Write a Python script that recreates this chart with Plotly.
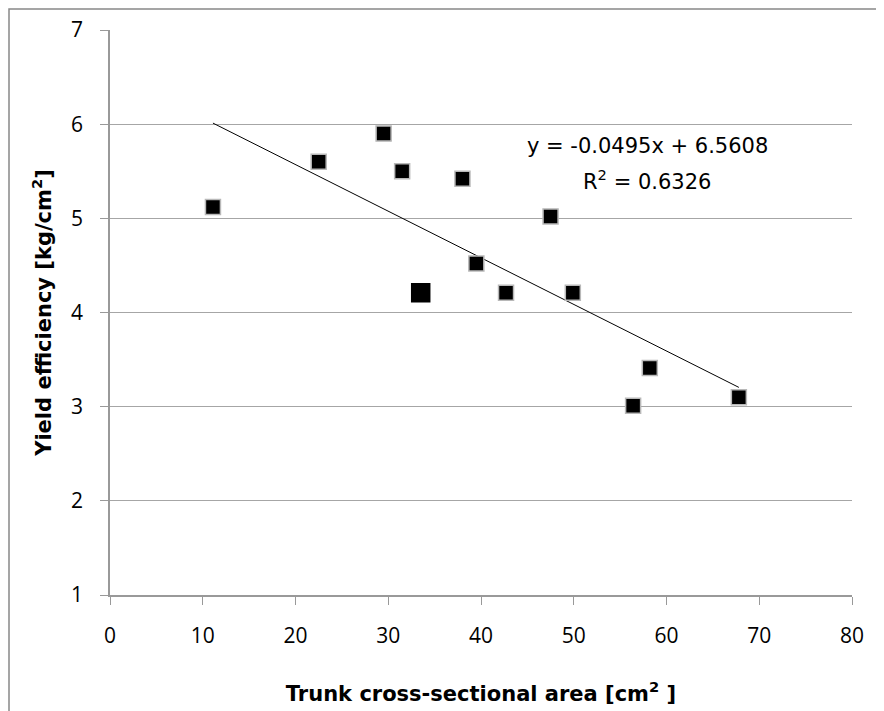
import plotly.graph_objects as go

# Data
tcsa = [11.1, 22.5, 29.5, 31.5, 33.5, 38.0, 39.5, 42.7, 47.5, 49.9, 56.4, 58.2, 67.8]
yield_eff = [5.12, 5.60, 5.90, 5.50, 4.21, 5.42, 4.52, 4.21, 5.02, 4.21, 3.01, 3.41, 3.10]
marker_sizes = [15, 15, 15, 15, 18, 15, 15, 15, 15, 15, 15, 15, 15]
marker_lines = ["#b8b8b8"] * 4 + ["#000000"] + ["#b8b8b8"] * 8

slope = -0.0495
intercept = 6.5608
r2 = 0.6326

x_ticks = [0, 10, 20, 30, 40, 50, 60, 70, 80]
y_ticks = [1, 2, 3, 4, 5, 6, 7]

trend_x = [min(tcsa), max(tcsa)]
trend_y = [slope * v + intercept for v in trend_x]

FONT = "Open Sans"
TITLE_FONT = "DejaVu Sans"

W, H = 876, 703
ML, MR, MT, MB = 102, 32, 22, 116
PW, PH = W - ML - MR, H - MT - MB

fig = go.Figure()
fig.add_trace(go.Scatter(
    x=trend_x, y=trend_y, mode="lines",
    line=dict(color="black", width=1), showlegend=False, hoverinfo="skip"))
fig.add_trace(go.Scatter(
    x=tcsa, y=yield_eff, mode="markers",
    marker=dict(symbol="square", size=marker_sizes, color="black", opacity=1,
                line=dict(color=marker_lines, width=1.5)),
    showlegend=False))

fig.update_layout(
    width=W, height=H,
    margin=dict(l=ML, r=MR, t=MT, b=MB, autoexpand=False),
    paper_bgcolor="white", plot_bgcolor="white",
    font=dict(family=FONT, color="black"),
    annotations=[
        dict(x=57.9, y=5.77, xref="x", yref="y", showarrow=False, xanchor="center",
             text=f"y = {slope}x + {intercept}",
             font=dict(family=TITLE_FONT, size=21, color="black")),
        dict(x=57.9, y=5.41, xref="x", yref="y", showarrow=False, xanchor="center",
             text=f"R<sup>2</sup> = {r2}",
             font=dict(family=TITLE_FONT, size=21, color="black")),
    ],
    shapes=[
        dict(type="rect", xref="paper", yref="paper",
             x0=(-ML + 1) / PW, x1=1.3, y0=-0.4, y1=1 + (MT - 1) / PH,
             line=dict(color="#888888", width=1.5), fillcolor="rgba(0,0,0,0)", layer="below"),
    ],
)

fig.update_xaxes(
    range=[0, 80], tickvals=x_ticks, ticks="outside", ticklen=8, tickcolor="#999999",
    showline=True, linecolor="#999999", linewidth=1.5, showgrid=False, zeroline=False,
    automargin=False,
    tickfont=dict(family=FONT, size=21, color="black"), ticklabelstandoff=13,
    title=dict(text="Trunk cross-sectional area [cm<sup>2</sup> ]",
               font=dict(family=TITLE_FONT, size=21, color="black", weight="bold"), standoff=38))
fig.update_yaxes(
    range=[1, 7], tickvals=y_ticks, ticks="outside", ticklen=8, tickcolor="#999999",
    showline=True, linecolor="#999999", linewidth=1.5, showgrid=True,
    gridcolor="#a6a6a6", gridwidth=1.2, zeroline=False,
    automargin=False,
    tickfont=dict(family=FONT, size=21, color="black"), ticklabelstandoff=13,
    title=dict(text="Yield efficiency [kg/cm<sup>2</sup>]",
               font=dict(family=TITLE_FONT, size=21, color="black", weight="bold"), standoff=14))

fig.write_html("out.html")
